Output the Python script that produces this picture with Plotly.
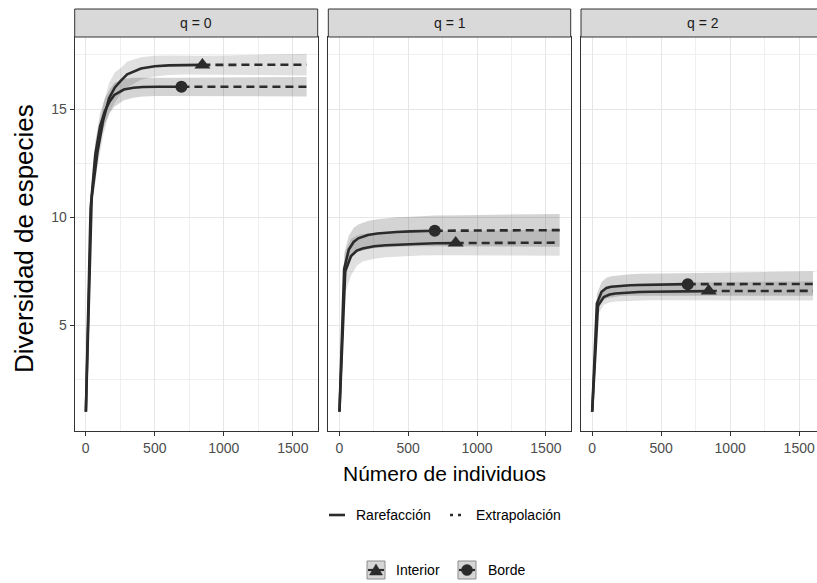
import plotly.graph_objects as go

W, H = 817, 583

# ---------------- data ----------------
q_labels = ["q = 0", "q = 1", "q = 2"]
x_ticks = [0, 500, 1000, 1500]
x_minor = [250, 750, 1250]
y_ticks = [5, 10, 15]
y_minor = [2.5, 7.5, 12.5, 17.5]
line_labels = ["Rarefacción", "Extrapolación"]
group_labels = ["Interior", "Borde"]

# q = 0, Interior (rarefaction part, then extrapolation part)
q0_int_rx = [1, 43, 85, 127, 169, 211, 253, 300, 400, 500, 600, 700, 845]
q0_int_ry = [1, 10.9, 13.0, 14.5, 15.5, 16.0, 16.3, 16.6, 16.87, 16.98, 17.02, 17.03, 17.04]
q0_int_rlo = [1, 10.3, 12.3, 13.8, 14.8, 15.3, 15.7, 16.0, 16.35, 16.5, 16.57, 16.6, 16.62]
q0_int_rhi = [1, 11.5, 13.7, 15.2, 16.2, 16.7, 16.9, 17.2, 17.39, 17.46, 17.47, 17.46, 17.46]
q0_int_ex = [845, 1000, 1200, 1400, 1600]
q0_int_ey = [17.04, 17.04, 17.05, 17.05, 17.05]
q0_int_elo = [16.62, 16.6, 16.58, 16.56, 16.55]
q0_int_ehi = [17.46, 17.48, 17.5, 17.53, 17.55]

# q = 0, Borde
q0_bor_rx = [1, 35, 69, 104, 138, 173, 207, 276, 345, 414, 518, 600, 693]
q0_bor_ry = [1, 10.4, 12.9, 14.2, 14.9, 15.35, 15.65, 15.9, 15.98, 16.02, 16.03, 16.03, 16.03]
q0_bor_rlo = [1, 9.9, 12.3, 13.6, 14.3, 14.8, 15.1, 15.4, 15.52, 15.58, 15.6, 15.61, 15.62]
q0_bor_rhi = [1, 10.9, 13.5, 14.8, 15.5, 15.9, 16.2, 16.4, 16.44, 16.45, 16.45, 16.45, 16.44]
q0_bor_ex = [693, 900, 1100, 1350, 1600]
q0_bor_ey = [16.03, 16.03, 16.03, 16.03, 16.03]
q0_bor_elo = [15.62, 15.6, 15.6, 15.59, 15.58]
q0_bor_ehi = [16.44, 16.45, 16.46, 16.47, 16.48]

# q = 1, Interior
q1_int_rx = [1, 43, 85, 127, 169, 253, 338, 422, 507, 600, 700, 845]
q1_int_ry = [1, 7.5, 8.2, 8.45, 8.55, 8.65, 8.7, 8.73, 8.75, 8.77, 8.79, 8.8]
q1_int_rlo = [1, 6.5, 7.3, 7.75, 7.95, 8.08, 8.15, 8.18, 8.2, 8.22, 8.24, 8.25]
q1_int_rhi = [1, 8.4, 9.0, 9.15, 9.22, 9.28, 9.31, 9.32, 9.33, 9.34, 9.35, 9.35]
q1_int_ex = [845, 1000, 1200, 1400, 1600]
q1_int_ey = [8.8, 8.81, 8.81, 8.82, 8.82]
q1_int_elo = [8.25, 8.24, 8.23, 8.22, 8.21]
q1_int_ehi = [9.35, 9.37, 9.39, 9.41, 9.43]

# q = 1, Borde
q1_bor_rx = [1, 35, 69, 104, 138, 207, 276, 345, 414, 518, 600, 693]
q1_bor_ry = [1, 7.6, 8.5, 8.85, 9.02, 9.17, 9.24, 9.28, 9.31, 9.34, 9.36, 9.37]
q1_bor_rlo = [1, 6.9, 7.9, 8.25, 8.4, 8.52, 8.58, 8.61, 8.63, 8.65, 8.66, 8.67]
q1_bor_rhi = [1, 8.3, 9.15, 9.5, 9.66, 9.82, 9.9, 9.96, 9.99, 10.02, 10.05, 10.07]
q1_bor_ex = [693, 900, 1100, 1350, 1600]
q1_bor_ey = [9.37, 9.38, 9.39, 9.39, 9.4]
q1_bor_elo = [8.67, 8.66, 8.65, 8.64, 8.63]
q1_bor_ehi = [10.07, 10.09, 10.11, 10.13, 10.15]

# q = 2, Interior
q2_int_rx = [1, 43, 85, 127, 169, 253, 338, 422, 507, 600, 700, 845]
q2_int_ry = [1, 5.9, 6.3, 6.42, 6.47, 6.52, 6.54, 6.55, 6.56, 6.57, 6.57, 6.58]
q2_int_rlo = [1, 5.5, 5.95, 6.05, 6.1, 6.13, 6.15, 6.16, 6.16, 6.17, 6.17, 6.17]
q2_int_rhi = [1, 6.3, 6.65, 6.79, 6.84, 6.9, 6.93, 6.94, 6.96, 6.97, 6.98, 6.99]
q2_int_ex = [845, 1000, 1200, 1400, 1600]
q2_int_ey = [6.58, 6.58, 6.58, 6.59, 6.59]
q2_int_elo = [6.17, 6.16, 6.15, 6.15, 6.14]
q2_int_ehi = [6.99, 7.0, 7.02, 7.03, 7.04]

# q = 2, Borde
q2_bor_rx = [1, 35, 69, 104, 138, 207, 276, 345, 414, 518, 600, 693]
q2_bor_ry = [1, 6.0, 6.55, 6.72, 6.78, 6.83, 6.85, 6.86, 6.87, 6.88, 6.89, 6.9]
q2_bor_rlo = [1, 5.6, 6.1, 6.25, 6.3, 6.35, 6.37, 6.38, 6.38, 6.39, 6.39, 6.39]
q2_bor_rhi = [1, 6.45, 7.0, 7.2, 7.27, 7.33, 7.36, 7.38, 7.39, 7.4, 7.41, 7.41]
q2_bor_ex = [693, 900, 1100, 1350, 1600]
q2_bor_ey = [6.9, 6.9, 6.9, 6.91, 6.91]
q2_bor_elo = [6.39, 6.38, 6.38, 6.37, 6.37]
q2_bor_ehi = [7.41, 7.43, 7.45, 7.47, 7.5]

# ---------------- styling ----------------
FONT = "Liberation Sans, Arial, sans-serif"
LINE_COL = "#2b2b2b"
BAND_COL = {"Interior": "rgba(0,0,0,0.12)", "Borde": "rgba(0,0,0,0.17)"}
SYMBOL = {"Interior": "triangle-up", "Borde": "circle"}
MSIZE = {"Interior": 14, "Borde": 12}


def px(v):
    return v / W


def py(v):
    return 1 - v / H


X_DOMS = [[px(74.7), px(317.7)], [px(328.3), px(570.7)], [px(581.0), 1.0]]
X_RANGES = [[-80, 1680], [-80, 1680], [-80, 1629]]
Y_DOM = [py(431), py(37)]
Y_RANGE = [0.11, 18.33]
STRIP_TOP = py(9)
STRIP_CENTERS = [196.2, 449.5, 702.5]

panels = [
    {"Interior": (q0_int_rx, q0_int_ry, q0_int_rlo, q0_int_rhi, q0_int_ex, q0_int_ey, q0_int_elo, q0_int_ehi),
     "Borde": (q0_bor_rx, q0_bor_ry, q0_bor_rlo, q0_bor_rhi, q0_bor_ex, q0_bor_ey, q0_bor_elo, q0_bor_ehi)},
    {"Interior": (q1_int_rx, q1_int_ry, q1_int_rlo, q1_int_rhi, q1_int_ex, q1_int_ey, q1_int_elo, q1_int_ehi),
     "Borde": (q1_bor_rx, q1_bor_ry, q1_bor_rlo, q1_bor_rhi, q1_bor_ex, q1_bor_ey, q1_bor_elo, q1_bor_ehi)},
    {"Interior": (q2_int_rx, q2_int_ry, q2_int_rlo, q2_int_rhi, q2_int_ex, q2_int_ey, q2_int_elo, q2_int_ehi),
     "Borde": (q2_bor_rx, q2_bor_ry, q2_bor_rlo, q2_bor_rhi, q2_bor_ex, q2_bor_ey, q2_bor_elo, q2_bor_ehi)},
]

fig = go.Figure()

for i, panel in enumerate(panels):
    xa = "x" if i == 0 else f"x{i + 1}"
    ya = "y" if i == 0 else f"y{i + 1}"
    # bands first
    for g in group_labels:
        rx, ry, rlo, rhi, ex, ey, elo, ehi = panel[g]
        bx = rx + ex[1:]
        blo = rlo + elo[1:]
        bhi = rhi + ehi[1:]
        fig.add_trace(go.Scatter(
            x=bx + bx[::-1], y=bhi + blo[::-1], xaxis=xa, yaxis=ya,
            fill="toself", fillcolor=BAND_COL[g], line=dict(width=0),
            mode="lines", hoverinfo="skip", showlegend=False))
    for g in group_labels:
        rx, ry, rlo, rhi, ex, ey, elo, ehi = panel[g]
        fig.add_trace(go.Scatter(
            x=rx, y=ry, xaxis=xa, yaxis=ya, mode="lines",
            line=dict(color=LINE_COL, width=2.6), showlegend=False, name=g))
        fig.add_trace(go.Scatter(
            x=ex, y=ey, xaxis=xa, yaxis=ya, mode="lines",
            line=dict(color=LINE_COL, width=2.6, dash="8px,5px"), showlegend=False, name=g))
        fig.add_trace(go.Scatter(
            x=[rx[-1]], y=[ry[-1]], xaxis=xa, yaxis=ya, mode="markers",
            marker=dict(symbol=SYMBOL[g], size=MSIZE[g], color=LINE_COL),
            showlegend=False, name=g))

layout = dict(
    width=W, height=H, margin=dict(l=0, r=0, t=0, b=0),
    paper_bgcolor="white", plot_bgcolor="white",
    font=dict(family=FONT, color="#4d4d4d"),
    showlegend=False,
)

for i in range(3):
    sx = "" if i == 0 else str(i + 1)
    layout["xaxis" + sx] = dict(
        domain=X_DOMS[i], range=X_RANGES[i], anchor="y" + sx,
        tickvals=x_ticks, ticktext=[str(v) for v in x_ticks],
        ticks="outside", ticklen=4, tickwidth=1, tickcolor="#333333",
        tickfont=dict(size=14, color="#4d4d4d", family=FONT),
        showgrid=True, gridcolor="#e6e6e6", gridwidth=1.1,
        minor=dict(tickvals=x_minor, showgrid=True, gridcolor="#efefef", gridwidth=0.8, ticks=""),
        zeroline=False, showline=True, linecolor="#333333", linewidth=1, mirror=True,
    )
    layout["yaxis" + sx] = dict(
        domain=Y_DOM, range=Y_RANGE, anchor="x" + sx,
        tickvals=y_ticks, ticktext=[str(v) for v in y_ticks],
        showticklabels=(i == 0), ticks="outside" if i == 0 else "",
        ticklen=4, tickwidth=1, tickcolor="#333333",
        tickfont=dict(size=14, color="#4d4d4d", family=FONT),
        showgrid=True, gridcolor="#e6e6e6", gridwidth=1.1,
        minor=dict(tickvals=y_minor, showgrid=True, gridcolor="#efefef", gridwidth=0.8, ticks=""),
        zeroline=False, showline=True, linecolor="#333333", linewidth=1, mirror=(i < 2),
    )

shapes = []
annotations = []
for i in range(3):
    x0 = X_DOMS[i][0]
    x1 = X_DOMS[i][1] if i < 2 else 1.02
    shapes.append(dict(type="rect", xref="paper", yref="paper", x0=x0, x1=x1,
                       y0=Y_DOM[1], y1=STRIP_TOP, fillcolor="#d9d9d9",
                       line=dict(color="#333333", width=1), layer="above"))
    annotations.append(dict(text=q_labels[i], xref="paper", yref="paper",
                            x=px(STRIP_CENTERS[i]), y=py(23), showarrow=False,
                            xanchor="center", yanchor="middle",
                            font=dict(size=14, color="#1a1a1a", family=FONT)))

# axis titles
annotations.append(dict(text="Número de individuos", xref="paper", yref="paper",
                        x=px(444), y=py(473), showarrow=False, xanchor="center", yanchor="middle",
                        font=dict(size=21, color="black", family=FONT)))
annotations.append(dict(text="Diversidad de especies", xref="paper", yref="paper",
                        x=px(24), y=py(239), showarrow=False, xanchor="center", yanchor="middle",
                        textangle=-90, font=dict(size=26, color="black", family=FONT)))

# legend 1 (line type)
LY1 = 515
shapes.append(dict(type="line", xref="paper", yref="paper", x0=px(329), x1=px(345),
                   y0=py(LY1), y1=py(LY1), line=dict(color=LINE_COL, width=2.6)))
shapes.append(dict(type="line", xref="paper", yref="paper", x0=px(450), x1=px(463),
                   y0=py(LY1), y1=py(LY1), line=dict(color=LINE_COL, width=2.6, dash="3px,5px")))
annotations.append(dict(text=line_labels[0], xref="paper", yref="paper", x=px(354), y=py(LY1),
                        showarrow=False, xanchor="left", yanchor="middle",
                        font=dict(size=14, color="black", family=FONT)))
annotations.append(dict(text=line_labels[1], xref="paper", yref="paper", x=px(474), y=py(LY1),
                        showarrow=False, xanchor="left", yanchor="middle",
                        font=dict(size=14, color="black", family=FONT)))

# legend 2 (group)
LY2 = 570
for bx0, g, tx in [(367, "Interior", 394), (458, "Borde", 486)]:
    shapes.append(dict(type="rect", xref="paper", yref="paper", x0=px(bx0), x1=px(bx0 + 18),
                       y0=py(LY2 + 9), y1=py(LY2 - 9), fillcolor="#d6d6d6",
                       line=dict(color="#8c8c8c", width=1)))
    shapes.append(dict(type="line", xref="paper", yref="paper", x0=px(bx0 + 1), x1=px(bx0 + 17),
                       y0=py(LY2), y1=py(LY2), line=dict(color=LINE_COL, width=2.2)))
    cx = bx0 + 9
    if g == "Interior":
        path = "M {:.5f},{:.5f} L {:.5f},{:.5f} L {:.5f},{:.5f} Z".format(
            px(cx), py(LY2 - 6), px(cx - 6.5), py(LY2 + 5), px(cx + 6.5), py(LY2 + 5))
        shapes.append(dict(type="path", xref="paper", yref="paper", path=path,
                           fillcolor=LINE_COL, line=dict(color=LINE_COL, width=0.5)))
    else:
        shapes.append(dict(type="circle", xref="paper", yref="paper", x0=px(cx - 5.5), x1=px(cx + 5.5),
                           y0=py(LY2 + 5.5), y1=py(LY2 - 5.5), fillcolor=LINE_COL,
                           line=dict(color=LINE_COL, width=0.5)))
    annotations.append(dict(text=g, xref="paper", yref="paper", x=px(tx), y=py(LY2),
                            showarrow=False, xanchor="left", yanchor="middle",
                            font=dict(size=14, color="black", family=FONT)))

layout["shapes"] = shapes
layout["annotations"] = annotations
fig.update_layout(**layout)

fig.write_html("out.html")
